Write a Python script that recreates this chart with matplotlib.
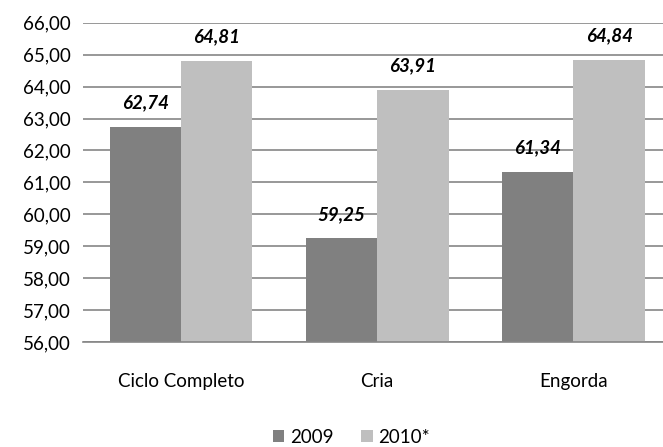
import matplotlib
matplotlib.use("Agg")
import matplotlib.pyplot as plt
import numpy as np

categories = ["Ciclo Completo", "Cria", "Engorda"]
vals_2009 = [62.74, 59.25, 61.34]
vals_2010 = [64.81, 63.91, 64.84]
series_names = ["2009", "2010*"]
yticks = [56, 57, 58, 59, 60, 61, 62, 63, 64, 65, 66]

DARK = "#808080"
LIGHT = "#BFBFBF"
GRID = "#868686"

plt.rcParams["font.family"] = ["Lato", "DejaVu Sans"]

fig = plt.figure(figsize=(6.63, 4.47), dpi=100)
# the plot area runs slightly past the right edge of the image, like the original
ax = fig.add_axes([0.125, 0.235, 0.888, 0.714])

x = np.arange(len(categories))
w = 0.364
b1 = ax.bar(x - w / 2, vals_2009, w, color=DARK, label=series_names[0], zorder=2)
b2 = ax.bar(x + w / 2, vals_2010, w, color=LIGHT, label=series_names[1], zorder=2)

def fmt(v):
    return f"{v:.2f}".replace(".", ",")

for bars in (b1, b2):
    for r in bars:
        h = r.get_height()
        ax.annotate(fmt(h), (r.get_x() + r.get_width() / 2, h), xytext=(0, 11),
                    textcoords="offset points", ha="center", va="bottom",
                    fontsize=13.5, fontweight="bold", fontstyle="italic", color="#000000")

ax.set_ylim(56, 66)
ax.set_xlim(-0.5, 2.5)
ax.set_yticks(yticks)
ax.set_yticklabels([fmt(t) for t in yticks], fontsize=13.5)
ax.set_xticks(x)
ax.set_xticklabels(categories, fontsize=13.5)
ax.tick_params(axis="y", length=0, pad=9)
ax.tick_params(axis="x", length=0, pad=22)
ax.yaxis.grid(True, color=GRID, linewidth=1.2, zorder=0)
ax.set_axisbelow(True)
for s in ("top", "right", "left"):
    ax.spines[s].set_visible(False)
ax.spines["bottom"].set_color(GRID)
ax.spines["bottom"].set_linewidth(1.2)

fig.legend(handles=[b1, b2], labels=series_names, loc="center", bbox_to_anchor=(0.53, 0.022),
           ncol=2, frameon=False, fontsize=13.5, handlelength=0.6, handleheight=0.6,
           handletextpad=0.3, columnspacing=1.5)

fig.savefig("out.png", dpi=100)
